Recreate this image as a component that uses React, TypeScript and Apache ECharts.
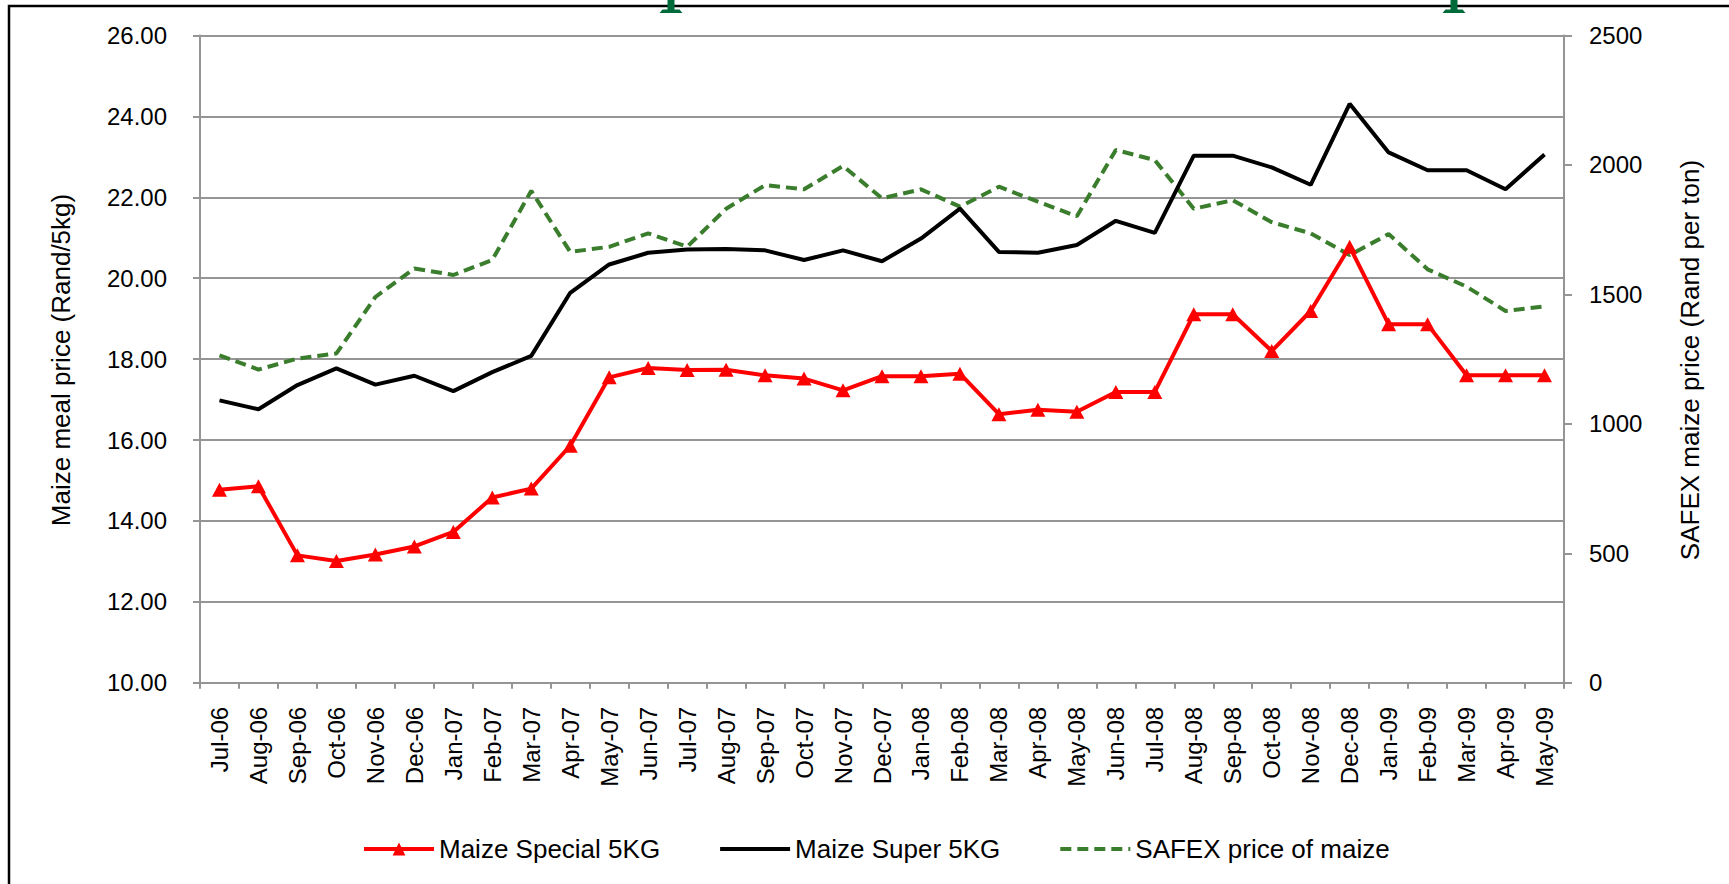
import React, { useEffect, useRef } from 'react';
import * as echarts from 'echarts';

const categories = [
  'Jul-06', 'Aug-06', 'Sep-06', 'Oct-06', 'Nov-06', 'Dec-06',
  'Jan-07', 'Feb-07', 'Mar-07', 'Apr-07', 'May-07', 'Jun-07', 'Jul-07', 'Aug-07', 'Sep-07', 'Oct-07', 'Nov-07', 'Dec-07',
  'Jan-08', 'Feb-08', 'Mar-08', 'Apr-08', 'May-08', 'Jun-08', 'Jul-08', 'Aug-08', 'Sep-08', 'Oct-08', 'Nov-08', 'Dec-08',
  'Jan-09', 'Feb-09', 'Mar-09', 'Apr-09', 'May-09',
];

const maizeSpecial = [
  14.77, 14.86, 13.15, 13.01, 13.17, 13.37,
  13.73, 14.58, 14.80, 15.86, 17.55, 17.78, 17.73, 17.74, 17.60, 17.52, 17.23, 17.58,
  17.58, 17.64, 16.64, 16.75, 16.70, 17.19, 17.19, 19.11, 19.11, 18.20, 19.19, 20.78,
  18.86, 18.86, 17.60, 17.60, 17.60,
];

const maizeSuper = [
  16.98, 16.76, 17.36, 17.77, 17.37, 17.59,
  17.21, 17.68, 18.08, 19.64, 20.34, 20.63, 20.71, 20.72, 20.69, 20.45, 20.69, 20.42,
  20.98, 21.72, 20.65, 20.63, 20.82, 21.42, 21.12, 23.03, 23.03, 22.74, 22.31, 24.31,
  23.11, 22.67, 22.67, 22.20, 23.06,
];

const safexPrice = [
  1265, 1210, 1252, 1272, 1490, 1600,
  1575, 1633, 1900, 1664, 1684, 1736, 1684, 1831, 1922, 1906, 1996, 1871,
  1906, 1839, 1916, 1858, 1802, 2058, 2019, 1831, 1864, 1779, 1736, 1652, 1733,
  1597, 1530, 1436, 1454,
];

const seriesNames = ['Maize Special 5KG', 'Maize Super 5KG', 'SAFEX price of maize'];
const leftAxisTitle = 'Maize meal price (Rand/5kg)';
const rightAxisTitle = 'SAFEX maize price (Rand per ton)';
const leftMin = 10;
const leftMax = 26;
const leftInterval = 2;
const rightMin = 0;
const rightMax = 2500;
const rightInterval = 500;

const FONT = '"Liberation Sans", Arial, Helvetica, sans-serif';
const GRID_COLOR = '#959595';
const HIDDEN = 'rgba(0,0,0,0)';

export default function App() {
  const ref = useRef<HTMLDivElement>(null);

  useEffect(() => {
    if (!ref.current) return;
    const chart = echarts.init(ref.current, undefined, { renderer: 'svg' });

    const topMark = (cx: number) => [
      { type: 'rect', shape: { x: cx - 3.5, y: 0, width: 7, height: 10.5 }, style: { fill: '#006B3A' }, z: 20 },
      {
        type: 'polygon',
        shape: { points: [[cx - 11.5, 13], [cx + 11.5, 13], [cx + 8.5, 9.5], [cx - 8.5, 9.5]] },
        style: { fill: '#006B3A' },
        z: 20,
      },
    ];

    const option: any = {
      animation: false,
      backgroundColor: '#ffffff',
      grid: { left: 200, right: 165, top: 35.5, bottom: 201.2, containLabel: false },
      legend: {
        data: seriesNames,
        left: 357,
        top: 831,
        itemWidth: 70,
        itemHeight: 16,
        itemGap: 58,
        lineStyle: { width: 4 },
        textStyle: { fontSize: 26, color: '#000', fontFamily: FONT },
      },
      xAxis: {
        type: 'category',
        data: categories,
        boundaryGap: true,
        axisLine: { lineStyle: { color: GRID_COLOR, width: 2 } },
        axisTick: { show: true, length: 6, interval: 0, lineStyle: { color: GRID_COLOR, width: 2 } },
        axisLabel: { interval: 0, rotate: 90, margin: 24, fontSize: 24, color: '#000', fontFamily: FONT },
        splitLine: { show: false },
      },
      yAxis: [
        {
          type: 'value',
          min: leftMin,
          max: leftMax,
          interval: leftInterval,
          position: 'left',
          axisLine: { show: true, lineStyle: { color: GRID_COLOR, width: 2 } },
          axisTick: { show: true, length: 7, lineStyle: { color: GRID_COLOR, width: 2 } },
          axisLabel: {
            margin: 33,
            fontSize: 24,
            color: '#000',
            fontFamily: FONT,
            formatter: (v: number) => v.toFixed(2),
          },
          splitLine: { show: true, lineStyle: { color: GRID_COLOR, width: 2 } },
        },
        {
          type: 'value',
          min: rightMin,
          max: rightMax,
          interval: rightInterval,
          position: 'right',
          axisLine: { show: true, lineStyle: { color: GRID_COLOR, width: 2 } },
          axisTick: { show: true, length: 8, lineStyle: { color: GRID_COLOR, width: 2 } },
          axisLabel: {
            margin: 25,
            fontSize: 24,
            color: '#000',
            fontFamily: FONT,
            formatter: (v: number) => String(v),
          },
          splitLine: { show: false },
        },
      ],
      series: [
        {
          name: seriesNames[2],
          type: 'line',
          yAxisIndex: 1,
          data: safexPrice,
          showSymbol: false,
          symbol: 'none',
          lineStyle: { color: '#3A7D2C', width: 4, type: [11, 6] },
          itemStyle: { color: HIDDEN },
          z: 2,
        },
        {
          name: seriesNames[1],
          type: 'line',
          yAxisIndex: 0,
          data: maizeSuper,
          symbol: 'none',
          lineStyle: { color: '#000000', width: 4 },
          itemStyle: { color: HIDDEN },
          z: 3,
        },
        {
          name: seriesNames[0],
          type: 'line',
          yAxisIndex: 0,
          data: maizeSpecial,
          symbol: 'triangle',
          symbolSize: [15, 14],
          lineStyle: { color: '#FF0000', width: 4 },
          itemStyle: { color: '#FF0000' },
          z: 4,
        },
      ],
      graphic: [
        {
          type: 'rect',
          shape: { x: 9, y: 6, width: 2000, height: 2000 },
          style: { fill: 'none', stroke: '#000', lineWidth: 2.5 },
          z: 10,
        },
        ...topMark(671),
        ...topMark(1454),
        {
          type: 'text',
          x: 61,
          y: 360,
          rotation: Math.PI / 2,
          style: {
            text: leftAxisTitle,
            fontSize: 26,
            fontFamily: FONT,
            fill: '#000',
            align: 'center',
            verticalAlign: 'middle',
          },
          z: 10,
        },
        {
          type: 'text',
          x: 1690,
          y: 360,
          rotation: Math.PI / 2,
          style: {
            text: rightAxisTitle,
            fontSize: 26,
            fontFamily: FONT,
            fill: '#000',
            align: 'center',
            verticalAlign: 'middle',
          },
          z: 10,
        },
      ],
    };

    chart.setOption(option);
    return () => chart.dispose();
  }, []);

  return (
    <div
      ref={ref}
      style={{ position: 'absolute', left: 0, top: 0, width: 1729, height: 884, background: '#fff' }}
    />
  );
}
